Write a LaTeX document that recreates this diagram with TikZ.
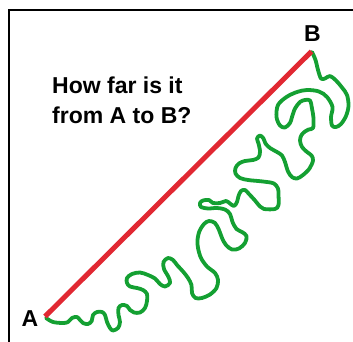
\documentclass[tikz,border=0pt]{standalone}
\usepackage{fontspec}
\setmainfont{Liberation Sans}
\definecolor{linered}{RGB}{225,40,50}
\definecolor{pathgreen}{RGB}{20,160,50}
\begin{document}
\begin{tikzpicture}[x=1pt,y=-1pt,
  lbl/.style={font=\fontsize{23}{30}\selectfont\bfseries, inner sep=0pt},
  frame/.style={line width=2pt, black},
  straight/.style={line width=5pt, linered},
  wander/.style={line width=3.8pt, pathgreen, line cap=round, line join=round}]
\useasboundingbox (0,0) rectangle (353,342);
% frame (only top and left edges visible)
\coordinate (fbl) at (8.8,343);
\coordinate (ftl) at (8.8,10.5);
\coordinate (ftr) at (354,10.5);
\draw[frame] (fbl) -- (ftl) -- (ftr);
% endpoints
\coordinate (A) at (45,316.5);
\coordinate (B) at (311.5,51.5);
\node[lbl, anchor=base] (labA) at (30,326) {A};
\node[lbl, anchor=base] (labB) at (312.5,41.5) {B};
\node[lbl, anchor=base west, align=left] (q) at (52,123.3) {How far is it\\from A to B?};
% winding green path
\draw[wander] plot[smooth, tension=0.55] coordinates {
(46,318) (53,322) (63,323) (68,322) (72,318) (77,317) (80,320) (83,323) (88,324) (91.7,321) (93,315) (97,312) (102,312) (105,315) (107,322) (110,328) (113,330.5) (118,328) (120,322) (118.5,315) (118.5,308) (122,305) (127,306) (130,310) (134,312.5) (140,312.5) (145,308) (147,301) (147,294) (143,290) (137,288) (130,286.5) (127,283) (127,278) (132,274) (140,272.5) (148,275) (155,278.5) (160,284) (165,286.5) (170,283) (168.5,277) (164,269) (163.5,262) (168,258) (173,260) (177,265) (183,271.5) (188,278) (191.5,285) (192,293) (195.5,298) (202,298) (210,294.5) (216.5,288) (218,280) (215,273) (207,266.5) (201,258) (198,248) (197.5,240) (199.5,231) (204,224) (209,221) (215,223) (219,230) (222,238) (226,245) (232,249.5) (239,248.5) (245,243) (246.5,236) (242,232) (236.5,229) (232.5,222) (230,214) (225,209.5) (217,208) (208,208.5) (201,207) (200,203) (203,200.5) (209,200) (213,203) (220,203) (226,201) (230,203.5) (234,206) (237,202) (238.5,196) (241,191) (245,190) (249,194) (255,200.5) (260,206.5) (264,209) (275,209) (278.5,205) (278.5,195) (278,188.5) (274,183.5) (267,182) (258,181) (248,180) (240,178) (235.5,173.5) (235.5,168) (239,163.5) (245,161) (253,160) (258.5,157.5) (260,151.5) (258.5,143.5) (257,138.5) (260,135.5) (263.5,138.5) (265.5,143.5) (270,148) (277,152) (282,155.5) (285,162) (288,171.5) (292,177) (297,178.5) (303,175) (309.5,168.5) (313,160.5) (311.5,155.5) (307,152) (302,147) (300,140.5) (301.5,135) (305,131.5) (308.5,129.5) (313,128) (313.5,118.5) (312,108.5) (310,100.5) (305,100) (300,102) (295,108.5) (292,117) (290,123) (285,127.5) (280,125.5) (276.5,117) (278,105) (286.5,97) (297,92) (307,90) (319,91.5) (327,97) (332.5,107) (331,117) (332,125.5) (336,127) (341,124) (346,116) (348.5,106) (347,95) (342,87.5) (336,80.5) (330,76) (325,78.5) (321,78.5) (318,70) (315.5,60) (312,52)};
% straight red line
\draw[straight] (A) -- (B);
\end{tikzpicture}
\end{document}
